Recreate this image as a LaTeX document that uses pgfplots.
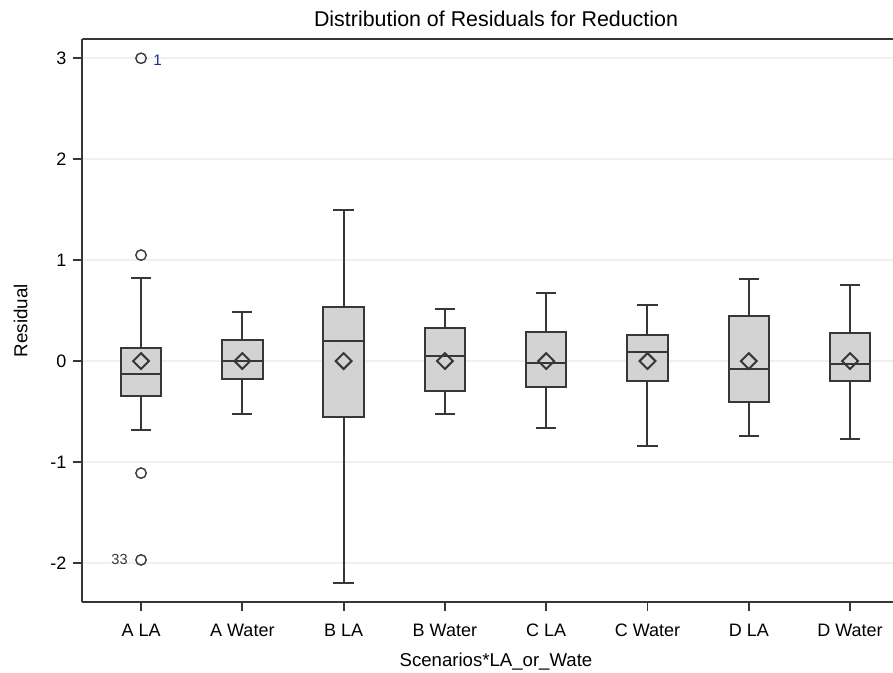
\documentclass[border=0pt]{standalone}
\usepackage{fontspec}
\setmainfont{Liberation Sans}
\usepackage{pgfplots}
\pgfplotsset{compat=1.18}
\usepgfplotslibrary{statistics}

\definecolor{boxgray}{RGB}{211,211,211}
\definecolor{linegray}{RGB}{55,55,55}
\definecolor{gridgray}{RGB}{240,240,240}
\definecolor{labelblue}{RGB}{30,40,150}

\begin{document}
\begin{tikzpicture}
\begin{axis}[
    at={(0,0)}, anchor=south west,
    scale only axis,
    width=405.25pt, height=281.5pt,
    xmin=-0.578, xmax=7.424,
    ymin=-2.387, ymax=3.191,
    axis x line=bottom, axis y line=left,
    axis line style={-, linegray, line width=1pt},
    tick align=outside,
    major tick length=4.5pt,
    tick style={linegray, line width=0.9pt},
    xtick={0,1,2,3,4,5,6,7},
    xticklabels={A LA, A Water, B LA, B Water, C LA, C Water, D LA, D Water},
    ytick={-2,-1,0,1,2,3},
    yticklabels={-2,-1,0,1,2,3},
    ticklabel style={font=\fontsize{9}{11}\selectfont},
    x tick label style={yshift=-2.8pt},
    ymajorgrids,
    grid style={gridgray, line width=1.2pt},
    every axis title shift=0pt,
    title={Distribution of Residuals for Reduction},
    title style={font=\fontsize{10.7}{13}\selectfont, at={(axis description cs:0.5102,1.02185)}, anchor=base, inner sep=0pt},
    xlabel={Scenarios*LA\_or\_Wate},
    xlabel style={font=\fontsize{9.3}{11}\selectfont, at={(axis description cs:0.5102,-0.0906)}, anchor=north, inner sep=0pt},
    ylabel={Residual},
    ylabel style={font=\fontsize{9.4}{11}\selectfont, at={(axis description cs:-0.0681,0.5)}, anchor=base, rotate=0, inner sep=0pt},
    boxplot/draw direction=y,
    boxplot/box extend=0.4,
    boxplot/whisker extend=0.2,
]
% A LA
\addplot[boxplot prepared={draw position=0, lower whisker=-0.68, lower quartile=-0.35,
    median=-0.13, upper quartile=0.13, upper whisker=0.82},
    draw=linegray, fill=boxgray, line width=1pt, mark=o, mark size=2.6pt,
    mark options={line width=0.7pt}]
    coordinates {(0,3.0) (0,1.05) (0,-1.11) (0,-1.97)};
% A Water
\addplot[boxplot prepared={draw position=1, lower whisker=-0.52, lower quartile=-0.18,
    median=0.0, upper quartile=0.21, upper whisker=0.49},
    draw=linegray, fill=boxgray, line width=1pt] coordinates {};
% B LA
\addplot[boxplot prepared={draw position=2, lower whisker=-2.20, lower quartile=-0.55,
    median=0.20, upper quartile=0.54, upper whisker=1.50},
    draw=linegray, fill=boxgray, line width=1pt] coordinates {};
% B Water
\addplot[boxplot prepared={draw position=3, lower whisker=-0.52, lower quartile=-0.30,
    median=0.05, upper quartile=0.33, upper whisker=0.52},
    draw=linegray, fill=boxgray, line width=1pt] coordinates {};
% C LA
\addplot[boxplot prepared={draw position=4, lower whisker=-0.665, lower quartile=-0.26,
    median=-0.02, upper quartile=0.29, upper whisker=0.675},
    draw=linegray, fill=boxgray, line width=1pt] coordinates {};
% C Water
\addplot[boxplot prepared={draw position=5, lower whisker=-0.84, lower quartile=-0.20,
    median=0.09, upper quartile=0.26, upper whisker=0.56},
    draw=linegray, fill=boxgray, line width=1pt] coordinates {};
% D LA
\addplot[boxplot prepared={draw position=6, lower whisker=-0.74, lower quartile=-0.41,
    median=-0.076, upper quartile=0.445, upper whisker=0.81},
    draw=linegray, fill=boxgray, line width=1pt] coordinates {};
% D Water
\addplot[boxplot prepared={draw position=7, lower whisker=-0.77, lower quartile=-0.20,
    median=-0.03, upper quartile=0.28, upper whisker=0.75},
    draw=linegray, fill=boxgray, line width=1pt] coordinates {};

% means
\addplot[only marks, mark=square, mark size=2.8pt,
    mark options={rotate=45, draw=linegray, line width=1pt}]
    coordinates {(0,0) (1,0) (2,0) (3,0) (4,0) (5,0) (6,0) (7,0)};

% outlier labels
\addplot[draw=none, mark=none, nodes near coords, point meta=explicit symbolic,
    nodes near coords style={anchor=west, inner sep=0pt, xshift=6pt, yshift=-0.8pt,
      text=labelblue, font=\fontsize{7.6}{9}\selectfont}]
    coordinates {(0,3.0) [1]};
\addplot[draw=none, mark=none, nodes near coords, point meta=explicit symbolic,
    nodes near coords style={anchor=east, inner sep=0pt, xshift=-6.5pt,
      text=linegray, font=\fontsize{7.3}{9}\selectfont}]
    coordinates {(0,-1.97) [33]};

\draw[linegray, line width=1pt] (rel axis cs:0,1) -- (rel axis cs:1,1);
\end{axis}
\pgfresetboundingbox
\path (-41.25pt,-35.5pt) rectangle (405.25pt,301pt);
\end{tikzpicture}
\end{document}
